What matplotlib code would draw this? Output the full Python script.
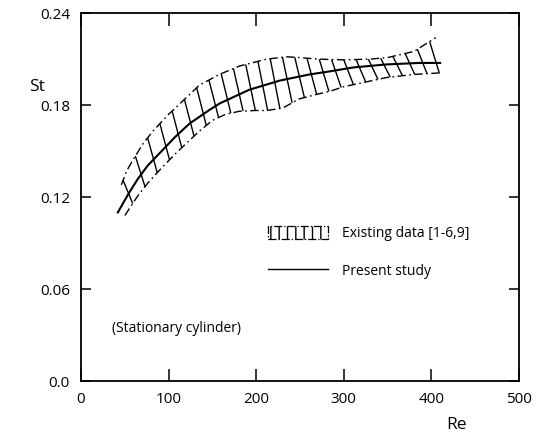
#!/usr/bin/env python3
"""Strouhal number vs Reynolds number, stationary cylinder."""
import numpy as np
import matplotlib
matplotlib.use('Agg')
import matplotlib.pyplot as plt
from matplotlib.lines import Line2D
from matplotlib.patches import Patch

# present study (solid curve)
solid_re = [42, 54, 65, 76, 92, 107, 124, 147, 158, 192, 227, 261, 284, 310, 348, 386, 410]
solid_st = [0.110, 0.122, 0.132, 0.1405, 0.150, 0.159, 0.168, 0.177, 0.181, 0.190,
            0.196, 0.200, 0.202, 0.2045, 0.2065, 0.2075, 0.2075]

# existing data band, upper and lower edges
upper_re = [46, 52, 59, 71, 82, 100, 113, 135, 158, 181, 212, 235, 250, 270, 300, 330, 350, 380, 405]
upper_st = [0.128, 0.137, 0.144, 0.155, 0.163, 0.174, 0.181, 0.193, 0.200, 0.2055,
            0.210, 0.2115, 0.211, 0.210, 0.2095, 0.210, 0.211, 0.215, 0.224]
lower_re = [50, 65, 76, 92, 109, 135, 150, 165, 181, 200, 212, 230, 249, 269, 284, 300, 349, 380, 410]
lower_st = [0.108, 0.121, 0.129, 0.139, 0.149, 0.163, 0.170, 0.174, 0.176, 0.1765,
            0.1765, 0.178, 0.184, 0.187, 0.189, 0.192, 0.198, 0.200, 0.201]

x_ticks = [0, 100, 200, 300, 400, 500]
y_ticks = [0.0, 0.06, 0.12, 0.18, 0.24]
y_labels = ['0.0', '0.06', '0.12', '0.18', '0.24']

DASHDOT = (0, (6, 2.5, 1.2, 2.5))
plt.rcParams.update({'font.family': 'Open Sans', 'font.size': 10.5})


def hatch_band(ax, step=14, slant=11):
    # slanted hatch strokes from the upper edge down to the lower edge
    for r in np.arange(upper_re[0] + 2, upper_re[-1] - 2, step):
        r2 = min(r + slant, lower_re[-1])
        if r2 < lower_re[0]:
            continue
        top = np.interp(r, upper_re, upper_st)
        bot = np.interp(r2, lower_re, lower_st)
        ax.plot([r, r2], [top, bot], color='black', lw=1.0, solid_capstyle='butt')


def main():
    fig = plt.figure(figsize=(5.44, 4.37), dpi=100, facecolor='white')
    ax = fig.add_axes([0.149, 0.128, 0.805, 0.842])

    hatch_band(ax)
    ax.plot(upper_re, upper_st, color='black', lw=1.0, linestyle=DASHDOT)
    ax.plot(lower_re, lower_st, color='black', lw=1.0, linestyle=DASHDOT)
    ax.plot(solid_re, solid_st, color='black', lw=1.5)

    ax.set_xlim(0, 500)
    ax.set_ylim(0, 0.24)
    ax.set_xticks(x_ticks)
    ax.set_yticks(y_ticks, y_labels)
    ax.tick_params(axis='x', direction='in', length=9, width=1.1, top=True, pad=8, labelsize=11)
    ax.tick_params(axis='y', direction='in', length=7, width=1.1, right=True, pad=8, labelsize=11)
    for s in ax.spines.values():
        s.set_linewidth(1.3)

    ax.set_xlabel('Re', fontsize=12.5)
    ax.xaxis.set_label_coords(0.858, -0.098)
    ax.set_ylabel('St', fontsize=12.5, rotation=0, va='center', ha='center')
    ax.yaxis.set_label_coords(-0.10, 0.80)

    ax.text(35, 0.034, '(Stationary cylinder)', fontsize=10, va='center')

    handles = [Patch(facecolor='white', edgecolor='black', hatch='||', linestyle='-.', lw=0.9),
               Line2D([], [], color='black', lw=1.0)]
    ax.legend(handles, ['Existing data [1-6,9]', 'Present study'], loc='upper left',
              bbox_to_anchor=(0.415, 0.437), frameon=False, fontsize=10,
              handlelength=4.3, handleheight=1.1, handletextpad=1.0, labelspacing=1.6,
              borderaxespad=0)

    fig.savefig('out.png', dpi=100)
    plt.close(fig)


if __name__ == '__main__':
    main()
